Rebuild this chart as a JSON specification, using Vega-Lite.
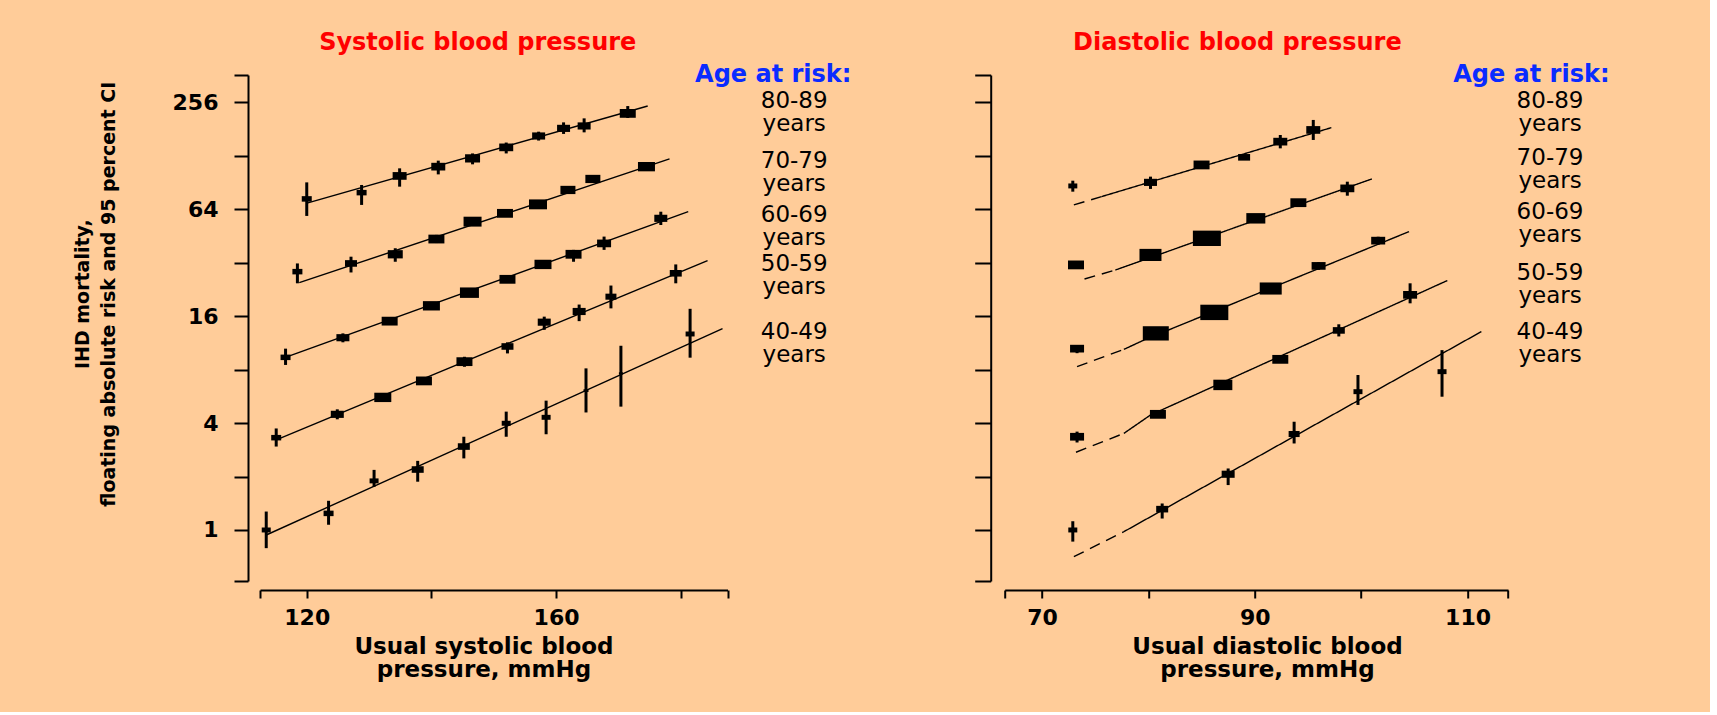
{
  "$schema": "https://vega.github.io/schema/vega-lite/v6.json",
  "background": "#FFCC99",
  "padding": {"left": 73, "top": 30, "right": 100, "bottom": 31},
  "bounds": "flush",
  "spacing": 276.7,
  "config": {
    "view": {"stroke": null},
    "font": "DejaVu Sans",
    "axis": {"domainColor": "#000", "domainWidth": 2, "tickColor": "#000", "tickWidth": 2, "labelColor": "#000", "labelFont": "DejaVu Sans", "labelFontWeight": "bold", "labelFontSize": 22, "titleFont": "DejaVu Sans", "titleFontWeight": "bold", "titleColor": "#000", "grid": false, "labelOverlap": false, "labelBound": false, "labelFlush": false},
    "title": {"color": "#ff0000", "font": "DejaVu Sans", "fontSize": 24, "fontWeight": "bold", "anchor": "middle"}
  },
  "resolve": {"scale": {"x": "independent", "y": "independent", "size": "shared"}},
  "datasets": {
    "sys_pts": [
      {"age": "80-89", "bp": 120.0, "risk": 73.2, "lo": 58.7, "hi": 90.7, "weight": 10},
      {"age": "80-89", "bp": 128.8, "risk": 79.4, "lo": 67.7, "hi": 87.7, "weight": 10},
      {"age": "80-89", "bp": 134.9, "risk": 98.6, "lo": 85.8, "hi": 108.8, "weight": 19.6},
      {"age": "80-89", "bp": 141.1, "risk": 111.2, "lo": 100.6, "hi": 120.2, "weight": 19.6},
      {"age": "80-89", "bp": 146.6, "risk": 123.8, "lo": 114.6, "hi": 132, "weight": 22.5},
      {"age": "80-89", "bp": 152.0, "risk": 142.8, "lo": 132, "hi": 152, "weight": 19.6},
      {"age": "80-89", "bp": 157.2, "risk": 165.5, "lo": 156, "hi": 175, "weight": 16.9},
      {"age": "80-89", "bp": 161.2, "risk": 182.7, "lo": 170, "hi": 197.5, "weight": 16.9},
      {"age": "80-89", "bp": 164.5, "risk": 188.5, "lo": 173.5, "hi": 208, "weight": 16.9},
      {"age": "80-89", "bp": 171.5, "risk": 221.9, "lo": 209, "hi": 244, "weight": 25.6},
      {"age": "70-79", "bp": 118.5, "risk": 28.5, "lo": 24.5, "hi": 31.7, "weight": 10},
      {"age": "70-79", "bp": 127.1, "risk": 31.7, "lo": 28.2, "hi": 34.6, "weight": 14.4},
      {"age": "70-79", "bp": 134.2, "risk": 35.7, "lo": 32.4, "hi": 38.6, "weight": 22.5},
      {"age": "70-79", "bp": 140.8, "risk": 43.5, "lo": 41.3, "hi": 45.9, "weight": 25.6},
      {"age": "70-79", "bp": 146.6, "risk": 54.5, "lo": 52.5, "hi": 56.5, "weight": 32.4},
      {"age": "70-79", "bp": 151.8, "risk": 60.7, "lo": 58.5, "hi": 63, "weight": 25.6},
      {"age": "70-79", "bp": 157.1, "risk": 68.2, "lo": 66, "hi": 70.5, "weight": 32.4},
      {"age": "70-79", "bp": 161.9, "risk": 82.2, "lo": 79, "hi": 85.5, "weight": 22.5},
      {"age": "70-79", "bp": 165.9, "risk": 94.8, "lo": 90, "hi": 99.5, "weight": 22.5},
      {"age": "70-79", "bp": 174.5, "risk": 111.2, "lo": 107, "hi": 115.5, "weight": 28.9},
      {"age": "60-69", "bp": 116.6, "risk": 9.38, "lo": 8.5, "hi": 10.5, "weight": 10},
      {"age": "60-69", "bp": 125.8, "risk": 12.1, "lo": 11.4, "hi": 12.8, "weight": 16.9},
      {"age": "60-69", "bp": 133.3, "risk": 15.0, "lo": 14.4, "hi": 15.6, "weight": 25.6},
      {"age": "60-69", "bp": 140.0, "risk": 18.3, "lo": 17.7, "hi": 18.9, "weight": 28.9},
      {"age": "60-69", "bp": 146.1, "risk": 21.7, "lo": 21.1, "hi": 22.3, "weight": 36.1},
      {"age": "60-69", "bp": 152.2, "risk": 25.8, "lo": 25.0, "hi": 26.6, "weight": 25.6},
      {"age": "60-69", "bp": 157.9, "risk": 31.3, "lo": 30.2, "hi": 32.4, "weight": 28.9},
      {"age": "60-69", "bp": 162.8, "risk": 35.7, "lo": 32.4, "hi": 37.8, "weight": 25.6},
      {"age": "60-69", "bp": 167.7, "risk": 41.1, "lo": 37.8, "hi": 44.9, "weight": 19.6},
      {"age": "60-69", "bp": 176.8, "risk": 56.9, "lo": 52.2, "hi": 62.0, "weight": 16.9},
      {"age": "50-59", "bp": 115.1, "risk": 3.31, "lo": 2.95, "hi": 3.73, "weight": 10},
      {"age": "50-59", "bp": 124.9, "risk": 4.48, "lo": 4.2, "hi": 4.78, "weight": 16.9},
      {"age": "50-59", "bp": 132.2, "risk": 5.58, "lo": 5.35, "hi": 5.82, "weight": 28.9},
      {"age": "50-59", "bp": 138.8, "risk": 6.91, "lo": 6.65, "hi": 7.18, "weight": 25.6},
      {"age": "50-59", "bp": 145.3, "risk": 8.87, "lo": 8.3, "hi": 9.45, "weight": 25.6},
      {"age": "50-59", "bp": 152.2, "risk": 10.8, "lo": 9.87, "hi": 11.4, "weight": 14.4},
      {"age": "50-59", "bp": 158.1, "risk": 14.8, "lo": 13.4, "hi": 15.9, "weight": 16.9},
      {"age": "50-59", "bp": 163.7, "risk": 17.0, "lo": 15.0, "hi": 18.6, "weight": 16.9},
      {"age": "50-59", "bp": 168.8, "risk": 20.6, "lo": 17.7, "hi": 23.8, "weight": 12.1},
      {"age": "50-59", "bp": 179.2, "risk": 27.9, "lo": 24.5, "hi": 31.3, "weight": 14.4},
      {"age": "40-49", "bp": 113.5, "risk": 1.0, "lo": 0.79, "hi": 1.27, "weight": 8.1},
      {"age": "40-49", "bp": 123.5, "risk": 1.24, "lo": 1.07, "hi": 1.46, "weight": 10},
      {"age": "40-49", "bp": 130.8, "risk": 1.89, "lo": 1.75, "hi": 2.18, "weight": 8.1},
      {"age": "40-49", "bp": 137.8, "risk": 2.19, "lo": 1.87, "hi": 2.45, "weight": 14.4},
      {"age": "40-49", "bp": 145.2, "risk": 2.95, "lo": 2.53, "hi": 3.35, "weight": 14.4},
      {"age": "40-49", "bp": 152.0, "risk": 3.99, "lo": 3.35, "hi": 4.64, "weight": 8.1},
      {"age": "40-49", "bp": 158.4, "risk": 4.31, "lo": 3.46, "hi": 5.35, "weight": 8.1},
      {"age": "40-49", "bp": 164.8, "risk": 6.09, "lo": 4.59, "hi": 8.13, "weight": 2.5},
      {"age": "40-49", "bp": 170.4, "risk": 7.62, "lo": 4.95, "hi": 10.9, "weight": 1.6},
      {"age": "40-49", "bp": 181.5, "risk": 12.7, "lo": 9.34, "hi": 17.6, "weight": 8.1}
    ],
    "sys_fit": [
      {"age": "80-89", "bp": 119.9, "risk": 69.1},
      {"age": "80-89", "bp": 174.7, "risk": 244.3},
      {"age": "70-79", "bp": 118.8, "risk": 24.7},
      {"age": "70-79", "bp": 178.2, "risk": 122.9},
      {"age": "60-69", "bp": 116.9, "risk": 9.46},
      {"age": "60-69", "bp": 181.2, "risk": 62.0},
      {"age": "50-59", "bp": 115.4, "risk": 3.25},
      {"age": "50-59", "bp": 184.3, "risk": 32.9},
      {"age": "40-49", "bp": 113.5, "risk": 0.937},
      {"age": "40-49", "bp": 186.7, "risk": 13.6}
    ],
    "sys_lab": [
      {"label": "80-89\nyears", "bp": 198.2, "risk": 261.7},
      {"label": "70-79\nyears", "bp": 198.2, "risk": 120.3},
      {"label": "60-69\nyears", "bp": 198.2, "risk": 59.5},
      {"label": "50-59\nyears", "bp": 198.2, "risk": 31.4},
      {"label": "40-49\nyears", "bp": 198.2, "risk": 13.0}
    ],
    "sys_head": [{"label": "Age at risk:", "bp": 182.3, "risk": 366.6}],
    "dia_pts": [
      {"age": "80-89", "bp": 72.9, "risk": 86.6, "lo": 80.4, "hi": 92.7, "weight": 8.1},
      {"age": "80-89", "bp": 80.2, "risk": 90.7, "lo": 83.3, "hi": 97.7, "weight": 16.9},
      {"age": "80-89", "bp": 85.0, "risk": 113.7, "lo": 110, "hi": 117.5, "weight": 25.6},
      {"age": "80-89", "bp": 89.0, "risk": 125.5, "lo": 121.5, "hi": 129.5, "weight": 14.4},
      {"age": "80-89", "bp": 92.4, "risk": 153.8, "lo": 141, "hi": 167.7, "weight": 19.6},
      {"age": "80-89", "bp": 95.5, "risk": 179, "lo": 157.2, "hi": 203.8, "weight": 19.6},
      {"age": "70-79", "bp": 73.2, "risk": 31.1, "lo": 30, "hi": 32.3, "weight": 25.6},
      {"age": "70-79", "bp": 80.2, "risk": 35.4, "lo": 34.5, "hi": 36.3, "weight": 48.4},
      {"age": "70-79", "bp": 85.5, "risk": 43.9, "lo": 43, "hi": 44.8, "weight": 78.4},
      {"age": "70-79", "bp": 90.1, "risk": 56.9, "lo": 55.5, "hi": 58.3, "weight": 36.1},
      {"age": "70-79", "bp": 94.1, "risk": 69.7, "lo": 67.5, "hi": 72, "weight": 25.6},
      {"age": "70-79", "bp": 98.7, "risk": 83.9, "lo": 76.3, "hi": 91.5, "weight": 19.6},
      {"age": "60-69", "bp": 73.3, "risk": 10.5, "lo": 9.9, "hi": 11.0, "weight": 19.6},
      {"age": "60-69", "bp": 80.7, "risk": 12.8, "lo": 12.5, "hi": 13.1, "weight": 67.6},
      {"age": "60-69", "bp": 86.2, "risk": 16.8, "lo": 16.5, "hi": 17.1, "weight": 78.4},
      {"age": "60-69", "bp": 91.5, "risk": 22.9, "lo": 22.4, "hi": 23.4, "weight": 48.4},
      {"age": "60-69", "bp": 96.0, "risk": 30.7, "lo": 29.2, "hi": 32.2, "weight": 19.6},
      {"age": "60-69", "bp": 101.6, "risk": 42.6, "lo": 40.5, "hi": 44.8, "weight": 19.6},
      {"age": "50-59", "bp": 73.3, "risk": 3.35, "lo": 3.11, "hi": 3.58, "weight": 19.6},
      {"age": "50-59", "bp": 80.9, "risk": 4.48, "lo": 4.35, "hi": 4.6, "weight": 25.6},
      {"age": "50-59", "bp": 87.0, "risk": 6.56, "lo": 6.4, "hi": 6.72, "weight": 36.1},
      {"age": "50-59", "bp": 92.4, "risk": 9.14, "lo": 8.9, "hi": 9.4, "weight": 25.6},
      {"age": "50-59", "bp": 97.9, "risk": 13.3, "lo": 12.3, "hi": 14.4, "weight": 14.4},
      {"age": "50-59", "bp": 104.6, "risk": 21.1, "lo": 18.9, "hi": 24.5, "weight": 19.6},
      {"age": "40-49", "bp": 72.9, "risk": 1.0, "lo": 0.86, "hi": 1.12, "weight": 8.1},
      {"age": "40-49", "bp": 81.3, "risk": 1.31, "lo": 1.16, "hi": 1.41, "weight": 14.4},
      {"age": "40-49", "bp": 87.5, "risk": 2.06, "lo": 1.79, "hi": 2.22, "weight": 16.9},
      {"age": "40-49", "bp": 93.7, "risk": 3.47, "lo": 3.07, "hi": 4.07, "weight": 12.1},
      {"age": "40-49", "bp": 99.7, "risk": 6.01, "lo": 5.06, "hi": 7.46, "weight": 8.1},
      {"age": "40-49", "bp": 107.6, "risk": 7.79, "lo": 5.63, "hi": 10.3, "weight": 8.1}
    ],
    "dia_fit": [
      {"age": "80-89", "seg": "dash", "bp": 73.0, "risk": 67.7},
      {"age": "80-89", "seg": "dash", "bp": 75.6, "risk": 75.4},
      {"age": "80-89", "seg": "solid", "bp": 75.6, "risk": 75.4},
      {"age": "80-89", "seg": "solid", "bp": 97.2, "risk": 184.4},
      {"age": "70-79", "seg": "dash", "bp": 74.0, "risk": 25.9},
      {"age": "70-79", "seg": "dash", "bp": 76.9, "risk": 29.1},
      {"age": "70-79", "seg": "solid", "bp": 76.9, "risk": 29.1},
      {"age": "70-79", "seg": "solid", "bp": 101.0, "risk": 94.8},
      {"age": "60-69", "seg": "dash", "bp": 73.3, "risk": 8.31},
      {"age": "60-69", "seg": "dash", "bp": 77.7, "risk": 10.4},
      {"age": "60-69", "seg": "solid", "bp": 77.7, "risk": 10.4},
      {"age": "60-69", "seg": "solid", "bp": 79.6, "risk": 11.75},
      {"age": "60-69", "seg": "solid", "bp": 104.5, "risk": 47.9},
      {"age": "50-59", "seg": "dash", "bp": 73.2, "risk": 2.74},
      {"age": "50-59", "seg": "dash", "bp": 77.7, "risk": 3.5},
      {"age": "50-59", "seg": "solid", "bp": 77.7, "risk": 3.5},
      {"age": "50-59", "seg": "solid", "bp": 80.2, "risk": 4.44},
      {"age": "50-59", "seg": "solid", "bp": 108.1, "risk": 25.4},
      {"age": "40-49", "seg": "dash", "bp": 73.0, "risk": 0.707},
      {"age": "40-49", "seg": "dash", "bp": 77.7, "risk": 0.978},
      {"age": "40-49", "seg": "solid", "bp": 77.7, "risk": 0.978},
      {"age": "40-49", "seg": "solid", "bp": 111.3, "risk": 13.1}
    ],
    "dia_lab": [
      {"label": "80-89\nyears", "bp": 117.75, "risk": 261.7},
      {"label": "70-79\nyears", "bp": 117.75, "risk": 125.1},
      {"label": "60-69\nyears", "bp": 117.75, "risk": 61.6},
      {"label": "50-59\nyears", "bp": 117.75, "risk": 27.9},
      {"label": "40-49\nyears", "bp": 117.75, "risk": 13.0}
    ],
    "dia_head": [{"label": "Age at risk:", "bp": 108.65, "risk": 366.6}]
  },
  "hconcat": [
    {
      "width": 467.5,
      "height": 506,
      "title": {"text": "Systolic blood pressure", "dx": -16, "offset": 8},
      "layer": [
        {
          "data": {"name": "sys_fit"},
          "mark": {"type": "line", "color": "#000", "strokeWidth": 1.4},
          "encoding": {
            "x": {"field": "bp", "type": "quantitative", "scale": {"domain": [112.5, 187.5], "nice": false, "zero": false},
              "axis": {"values": [112.5, 120, 140, 160, 180, 187.5], "labelExpr": "datum.value == 120 || datum.value == 160 ? datum.value + '' : ''", "offset": 9, "tickSize": 8, "labelPadding": 9, "title": ["Usual systolic blood", "pressure, mmHg"], "titleFontSize": 23, "titleLineHeight": 23, "titlePadding": 7, "titleX": 223.5}},
            "y": {"field": "risk", "type": "quantitative", "scale": {"type": "log", "domain": [0.516, 365], "nice": false},
              "axis": {"values": [0.516, 1, 2, 4, 8, 16, 32, 64, 128, 256, 365], "labelExpr": "indexof([1,4,16,64,256], datum.value) >= 0 ? datum.value + '' : ''", "offset": 12, "tickSize": 14, "labelPadding": 16, "title": ["IHD mortality,", "floating absolute risk and 95 percent CI"], "titleFontSize": 19, "titleLineHeight": 26, "titlePadding": 54, "titleY": 218.7}},
            "detail": {"field": "age", "type": "nominal"}
          }
        },
        {
          "data": {"name": "sys_pts"},
          "mark": {"type": "rule", "color": "#000", "strokeWidth": 3},
          "encoding": {
            "x": {"field": "bp", "type": "quantitative", "scale": {"domain": [112.5, 187.5], "nice": false, "zero": false}},
            "y": {"field": "lo", "type": "quantitative", "scale": {"type": "log", "domain": [0.516, 365], "nice": false}},
            "y2": {"field": "hi"}
          }
        },
        {
          "data": {"name": "sys_pts"},
          "mark": {"type": "point", "shape": "M-1,-0.55H1V0.55H-1Z", "filled": true, "color": "#000", "opacity": 1, "strokeWidth": 0},
          "encoding": {
            "x": {"field": "bp", "type": "quantitative", "scale": {"domain": [112.5, 187.5], "nice": false, "zero": false}},
            "y": {"field": "risk", "type": "quantitative", "scale": {"type": "log", "domain": [0.516, 365], "nice": false}},
            "size": {"field": "weight", "type": "quantitative", "scale": {"domain": [0, 80], "range": [0, 800]}, "legend": null}
          }
        },
        {
          "data": {"name": "sys_lab"},
          "mark": {"type": "text", "align": "center", "baseline": "middle", "fontSize": 23, "lineHeight": 23, "lineBreak": "\n", "color": "#000", "font": "DejaVu Sans"},
          "encoding": {
            "x": {"field": "bp", "type": "quantitative", "scale": {"domain": [112.5, 187.5], "nice": false, "zero": false}},
            "y": {"field": "risk", "type": "quantitative", "scale": {"type": "log", "domain": [0.516, 365], "nice": false}},
            "text": {"field": "label", "type": "nominal"}
          }
        },
        {
          "data": {"name": "sys_head"},
          "mark": {"type": "text", "align": "left", "baseline": "middle", "fontSize": 24, "fontWeight": "bold", "color": "#0a2bff", "font": "DejaVu Sans"},
          "encoding": {
            "x": {"field": "bp", "type": "quantitative", "scale": {"domain": [112.5, 187.5], "nice": false, "zero": false}},
            "y": {"field": "risk", "type": "quantitative", "scale": {"type": "log", "domain": [0.516, 365], "nice": false}},
            "text": {"field": "label", "type": "nominal"}
          }
        }
      ]
    },
    {
      "width": 503.3,
      "height": 506,
      "title": {"text": "Diastolic blood pressure", "dx": -19, "offset": 8},
      "layer": [
        {
          "data": {"name": "dia_fit"},
          "mark": {"type": "line", "color": "#000", "strokeWidth": 1.4},
          "encoding": {
            "x": {"field": "bp", "type": "quantitative", "scale": {"domain": [66.5, 113.8], "nice": false, "zero": false},
              "axis": {"values": [66.5, 70, 80, 90, 100, 110, 113.8], "labelExpr": "datum.value == 70 || datum.value == 90 || datum.value == 110 ? datum.value + '' : ''", "offset": 9, "tickSize": 8, "labelPadding": 9, "title": ["Usual diastolic blood", "pressure, mmHg"], "titleFontSize": 23, "titleLineHeight": 23, "titlePadding": 7, "titleX": 262.3}},
            "y": {"field": "risk", "type": "quantitative", "scale": {"type": "log", "domain": [0.516, 365], "nice": false},
              "axis": {"values": [0.516, 1, 2, 4, 8, 16, 32, 64, 128, 256, 365], "labels": false, "offset": 14, "tickSize": 16, "title": null}},
            "detail": {"field": "age", "type": "nominal"},
            "strokeDash": {"field": "seg", "type": "nominal", "scale": {"domain": ["dash", "solid"], "range": [[11, 7], [1, 0]]}, "legend": null}
          }
        },
        {
          "data": {"name": "dia_pts"},
          "mark": {"type": "rule", "color": "#000", "strokeWidth": 3},
          "encoding": {
            "x": {"field": "bp", "type": "quantitative", "scale": {"domain": [66.5, 113.8], "nice": false, "zero": false}},
            "y": {"field": "lo", "type": "quantitative", "scale": {"type": "log", "domain": [0.516, 365], "nice": false}},
            "y2": {"field": "hi"}
          }
        },
        {
          "data": {"name": "dia_pts"},
          "mark": {"type": "point", "shape": "M-1,-0.55H1V0.55H-1Z", "filled": true, "color": "#000", "opacity": 1, "strokeWidth": 0},
          "encoding": {
            "x": {"field": "bp", "type": "quantitative", "scale": {"domain": [66.5, 113.8], "nice": false, "zero": false}},
            "y": {"field": "risk", "type": "quantitative", "scale": {"type": "log", "domain": [0.516, 365], "nice": false}},
            "size": {"field": "weight", "type": "quantitative", "scale": {"domain": [0, 80], "range": [0, 800]}, "legend": null}
          }
        },
        {
          "data": {"name": "dia_lab"},
          "mark": {"type": "text", "align": "center", "baseline": "middle", "fontSize": 23, "lineHeight": 23, "lineBreak": "\n", "color": "#000", "font": "DejaVu Sans"},
          "encoding": {
            "x": {"field": "bp", "type": "quantitative", "scale": {"domain": [66.5, 113.8], "nice": false, "zero": false}},
            "y": {"field": "risk", "type": "quantitative", "scale": {"type": "log", "domain": [0.516, 365], "nice": false}},
            "text": {"field": "label", "type": "nominal"}
          }
        },
        {
          "data": {"name": "dia_head"},
          "mark": {"type": "text", "align": "left", "baseline": "middle", "fontSize": 24, "fontWeight": "bold", "color": "#0a2bff", "font": "DejaVu Sans"},
          "encoding": {
            "x": {"field": "bp", "type": "quantitative", "scale": {"domain": [66.5, 113.8], "nice": false, "zero": false}},
            "y": {"field": "risk", "type": "quantitative", "scale": {"type": "log", "domain": [0.516, 365], "nice": false}},
            "text": {"field": "label", "type": "nominal"}
          }
        }
      ]
    }
  ]
}
